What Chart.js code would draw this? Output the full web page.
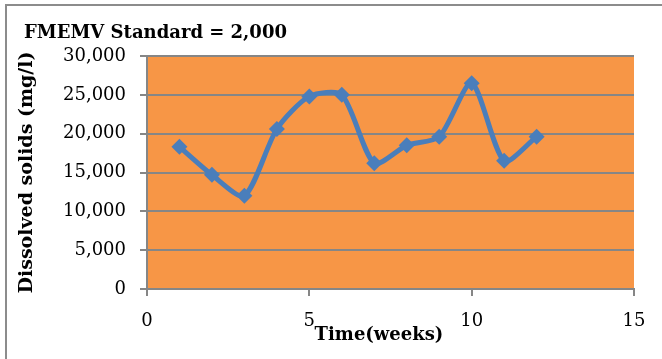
<!DOCTYPE html>
<html>
<head>
<meta charset="utf-8">
<script src="https://cdn.jsdelivr.net/npm/chart.js@4"></script>
<style>
  html, body { margin: 0; padding: 0; background: #fff; }
  #wrap { position: relative; width: 662px; height: 359px; overflow: hidden; }
  #frame { position: absolute; left: 5px; top: 4px; right: -10px; bottom: -10px;
           border-left: 2px solid #8c8c8c; border-top: 2px solid #8c8c8c; }
  #solids { position: absolute; left: 0; top: 0; }
</style>
</head>
<body>
<div id="wrap">
  <div id="frame"></div>
  <canvas id="solids" width="662" height="359"></canvas>
</div>
<script>
// weekly dissolved solids readings (mg/l)
const weeks = [1, 2, 3, 4, 5, 6, 7, 8, 9, 10, 11, 12];
const solids = [18300, 14700, 12000, 20600, 24800, 25000, 16200, 18500, 19600, 26500, 16500, 19600];
const xTicks = [0, 5, 10, 15];
const yTicks = [0, 5000, 10000, 15000, 20000, 25000, 30000];

const titleText = 'FMEMV Standard = 2,000';
const xTitle = 'Time(weeks)';
const yTitle = 'Dissolved solids (mg/l)';

const serif = '"DejaVu Serif", "Liberation Serif", serif';
const gridGrey = '#868686';
const blue = '#4A7EBB';

// orange plot background plus the chart title and x axis title
const decor = {
  id: 'decor',
  beforeDraw(chart) {
    const { ctx, chartArea: a } = chart;
    ctx.save();
    ctx.fillStyle = '#F79646';
    ctx.fillRect(a.left, a.top, a.right - a.left, a.bottom - a.top);
    ctx.restore();
  },
  afterDraw(chart) {
    const { ctx } = chart;
    ctx.save();
    ctx.fillStyle = '#000';
    ctx.font = 'bold 18px ' + serif;
    ctx.textBaseline = 'alphabetic';
    ctx.textAlign = 'left';
    ctx.fillText(titleText, 24, 38);
    ctx.textAlign = 'center';
    ctx.fillText(xTitle, 379, 340);
    ctx.restore();
  }
};

new Chart(document.getElementById('solids'), {
  type: 'line',
  data: {
    datasets: [{
      data: weeks.map((w, i) => ({ x: w, y: solids[i] })),
      borderColor: blue,
      backgroundColor: blue,
      borderWidth: 5,
      tension: 0.25,
      pointStyle: 'rectRot',
      pointRadius: 8,
      pointHoverRadius: 8,
      pointBorderWidth: 0
    }]
  },
  options: {
    responsive: false,
    animation: false,
    layout: { padding: { left: 0, top: 56, right: 28, bottom: 0 } },
    plugins: {
      legend: { display: false },
      tooltip: { enabled: false }
    },
    scales: {
      x: {
        type: 'linear',
        min: 0,
        max: 15,
        afterBuildTicks: s => { s.ticks = xTicks.map(v => ({ value: v })); },
        afterFit: s => { s.height = 70; },
        border: { color: gridGrey, width: 2 },
        grid: { drawOnChartArea: false, drawTicks: true, tickLength: 7, color: gridGrey, lineWidth: 2 },
        ticks: { color: '#000', font: { family: serif, size: 18 }, padding: 15, maxRotation: 0 }
      },
      y: {
        min: 0,
        max: 30000,
        afterBuildTicks: s => { s.ticks = yTicks.map(v => ({ value: v })); },
        afterFit: s => { s.width = 147; },
        border: { color: gridGrey, width: 2 },
        grid: { color: gridGrey, lineWidth: 2, tickLength: 7 },
        ticks: {
          color: '#000',
          font: { family: serif, size: 18 },
          padding: 14,
          callback: v => v.toLocaleString('en-US')
        },
        title: {
          display: true,
          text: yTitle,
          color: '#000',
          font: { family: serif, size: 19, weight: 'bold' },
          padding: { top: 16, bottom: 0 }
        }
      }
    }
  },
  plugins: [decor]
});
</script>
</body>
</html>
